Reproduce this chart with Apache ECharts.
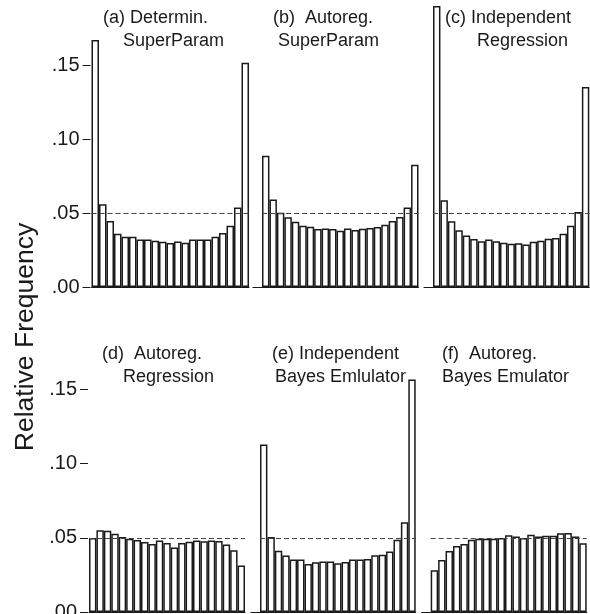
<!DOCTYPE html>
<html>
<head>
<meta charset="utf-8">
<script src="https://cdn.jsdelivr.net/npm/echarts@6/dist/echarts.min.js"></script>
<style>
html,body{margin:0;padding:0;background:#fff;}
#chart{width:590px;height:614px;}
</style>
</head>
<body>
<div id="chart"></div>
<script>
// Rank categories (21 ranks)
const ranks = ['1','2','3','4','5','6','7','8','9','10','11','12','13','14','15','16','17','18','19','20','21'];

// Relative frequency per rank
const detSuperParam = [0.167,0.056,0.0446,0.036,0.034,0.034,0.0322,0.0322,0.0313,0.0306,0.0297,0.0308,0.030,0.0322,0.0322,0.0322,0.034,0.0365,0.0414,0.0538,0.1516];
const arSuperParam  = [0.0887,0.0592,0.0502,0.0471,0.0441,0.0414,0.0408,0.0392,0.0396,0.0392,0.038,0.0396,0.0385,0.0394,0.0399,0.0405,0.0421,0.0446,0.0473,0.0538,0.0826];
const indRegression = [0.190,0.0586,0.0444,0.0383,0.0349,0.0324,0.0309,0.0322,0.0309,0.030,0.0293,0.0295,0.0288,0.0306,0.0313,0.0327,0.0331,0.036,0.0414,0.0507,0.1353];
const arRegression  = [0.0499,0.0550,0.0548,0.0528,0.0505,0.0494,0.0485,0.0472,0.0458,0.0481,0.0465,0.0434,0.0465,0.0474,0.0481,0.0476,0.0481,0.0478,0.0454,0.0416,0.0314];
const indBayes      = [0.1128,0.0505,0.0413,0.038,0.0353,0.0353,0.0323,0.0335,0.0341,0.0341,0.0328,0.0337,0.0353,0.0353,0.0357,0.0382,0.0386,0.0407,0.0487,0.0604,0.1566];
const arBayes       = [0.0281,0.035,0.0411,0.0445,0.0458,0.0487,0.0494,0.0494,0.0494,0.0499,0.0517,0.0508,0.0499,0.0521,0.0508,0.0514,0.0514,0.053,0.0532,0.0508,0.0463];

// Uniform reference level (1/21)
const uniformLevel = 0.0476;

// Y tick values and labels
const yTickValues = [0, 0.05, 0.10, 0.15];
const yTickLabels = ['.00', '.05', '.10', '.15'];

// Panel titles (two lines each)
const titles = [
  ['(a) Determin.', 'SuperParam'],
  ['(b)  Autoreg.', 'SuperParam'],
  ['(c) Independent', 'Regression'],
  ['(d)  Autoreg.', 'Regression'],
  ['(e) Independent', 'Bayes Emlulator'],
  ['(f)  Autoreg.', 'Bayes Emulator']
];
const yAxisTitle = 'Relative Frequency';

const seriesData = [detSuperParam, arSuperParam, indRegression, arRegression, indBayes, arBayes];

// Layout
const grids = [
  {left: 91.5, top: 6,   width: 157.5, height: 281},
  {left: 262,  top: 6,   width: 156.5, height: 281},
  {left: 433,  top: 6,   width: 156.3, height: 281},
  {left: 89,   top: 330, width: 156,   height: 282},
  {left: 260,  top: 330, width: 155.7, height: 282},
  {left: 430.7,top: 330, width: 156,   height: 282}
];
const titlePos = [
  [[103, 18], [123, 41]],
  [[273, 18], [278, 41]],
  [[445, 18], [477, 41]],
  [[102, 354], [123, 377]],
  [[272, 354], [275, 377]],
  [[442, 354], [442, 377]]
];

const ink = '#1a1a1a';
const font = '"Liberation Sans", Arial, Helvetica, sans-serif';

const xAxes = [], yAxes = [], series = [], graphics = [];
seriesData.forEach((d, i) => {
  const isLeft = (i === 0 || i === 3);
  xAxes.push({
    type: 'category', gridIndex: i, data: ranks,
    axisLine: {show: true, lineStyle: {color: ink, width: 1}},
    axisTick: {show: false}, axisLabel: {show: false}, splitLine: {show: false}
  });
  yAxes.push({
    type: 'value', gridIndex: i, min: 0, max: 0.19,
    offset: isLeft ? 1 : 0,
    splitLine: {show: false},
    axisLine: {show: false},
    axisTick: {
      show: true, length: isLeft ? 8 : 9.5,
      customValues: isLeft ? yTickValues : [0],
      lineStyle: {color: ink, width: 1}
    },
    axisLabel: {
      show: isLeft,
      customValues: yTickValues,
      verticalAlignMinLabel: 'middle',
      verticalAlignMaxLabel: 'middle',
      formatter: function (v) {
        const idx = yTickValues.findIndex(t => Math.abs(t - v) < 1e-9);
        return idx >= 0 ? yTickLabels[idx] : '';
      },
      fontFamily: font, fontSize: 20, color: ink, margin: 11
    }
  });
  series.push({
    type: 'bar', xAxisIndex: i, yAxisIndex: i, data: d,
    barWidth: '100%',
    barCategoryGap: '0%',
    itemStyle: {color: '#fff', borderColor: ink, borderWidth: 1.5},
    silent: true,
    markLine: {
      silent: true, symbol: ['none', 'none'],
      label: {show: false},
      lineStyle: {type: [5, 3], color: '#444', width: 1},
      data: [{yAxis: uniformLevel}]
    }
  });
  titles[i].forEach((t, j) => {
    graphics.push({
      type: 'text',
      style: {
        text: t, x: titlePos[i][j][0], y: titlePos[i][j][1],
        font: '18px ' + font, fill: ink,
        textVerticalAlign: 'middle', verticalAlign: 'middle', textAlign: 'left'
      }
    });
  });
});

graphics.push({
  type: 'text',
  x: 26, y: 337, rotation: Math.PI / 2,
  style: {
    text: yAxisTitle, font: '26.5px ' + font, fill: ink,
    textAlign: 'center', textVerticalAlign: 'middle', verticalAlign: 'middle'
  }
});

const chart = echarts.init(document.getElementById('chart'), null, {renderer: 'canvas'});
chart.setOption({
  animation: false,
  backgroundColor: '#fff',
  grid: grids.map(g => Object.assign({containLabel: false, outerBoundsMode: 'none'}, g)),
  xAxis: xAxes,
  yAxis: yAxes,
  series: series,
  graphic: graphics
});
</script>
</body>
</html>
